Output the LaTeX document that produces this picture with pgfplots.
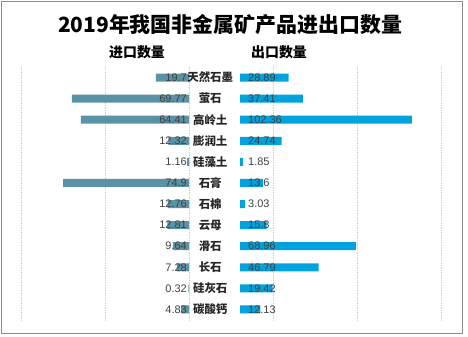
\documentclass[border=0pt]{standalone}
\usepackage{fontspec}
\setmainfont{Liberation Sans}
\newfontfamily\cjk{Noto Sans CJK SC}
\usepackage{pgfplots}
\pgfplotsset{compat=1.18}
\usepackage{pgfplotstable}

\definecolor{impc}{HTML}{5A93A5}
\definecolor{expc}{HTML}{00A3DD}
\definecolor{gridc}{HTML}{CFCFCF}
\definecolor{lblc}{HTML}{404040}
\definecolor{catc}{HTML}{262626}
\definecolor{framec}{HTML}{8C8C8C}

\pgfplotstableread{
idx imp exp
0 19.7 28.89
1 69.77 37.41
2 64.41 102.36
3 12.32 24.74
4 1.16 1.85
5 74.9 13.6
6 12.76 3.03
7 12.81 15.8
8 9.64 68.96
9 7.28 46.79
10 0.32 19.42
11 4.83 12.13
}\data

\pgfplotsset{
  base/.style={
    scale only axis, height=253bp,
    xbar, bar width=8bp,
    y dir=reverse, ymin=-0.5, ymax=11.5,
    axis line style={draw=none}, tick style={draw=none},
    xticklabels={}, xmajorgrids,
    grid style={gridc, dash pattern=on 1.5bp off 1bp, line width=0.8bp},
    clip=false,
    /pgf/number format/assume math mode=true,
    visualization depends on={rawx \as \rx},
    nodes near coords={\pgfmathprintnumber[fixed,precision=2,assume math mode=true]{\pgfplotspointmeta}},
  },
}

\begin{document}
\begin{tikzpicture}
\path[use as bounding box] (0,0) rectangle (468bp,337bp);
\draw[framec, line width=1bp] (1.5bp,3.5bp) rectangle (462bp,335.5bp);

\node[font=\cjk\bfseries\fontsize{21}{24}\selectfont, text=black] at (230bp,312bp) {2019年我国非金属矿产品进出口数量};
\node[font=\cjk\bfseries\fontsize{14}{16}\selectfont, text=black] at (137bp,285bp) {进口数量};
\node[font=\cjk\bfseries\fontsize{14}{16}\selectfont, text=black] at (279bp,285bp) {出口数量};

% imports (left)
\begin{axis}[base,
  at={(21bp,17bp)}, anchor=south west, width=168bp,
  x dir=reverse, xmin=0, xmax=100, xtick={0,50,100},
  ytick=\empty]
\addplot[fill=impc, draw=none,
  every node near coord/.append style={font=\fontsize{11}{12}\selectfont, text=lblc, anchor=east, inner sep=0pt, xshift={\rx*1.68bp-2bp}}]
  table[x=imp, y=idx] {\data};
\end{axis}

% exports (right)
\begin{axis}[base,
  at={(240bp,17bp)}, anchor=south west, width=201bp,
  xmin=0, xmax=119.643, xtick={19.643,69.643,119.643},
  ytick={0,...,11},
  yticklabels={天然石墨,萤石,高岭土,膨润土,硅藻土,石膏,石棉,云母,滑石,长石,硅灰石,碳酸钙},
  yticklabel style={font=\cjk\bfseries\fontsize{11.5}{13}\selectfont, text=catc, anchor=center, xshift=-25.5bp}]
\addplot[fill=expc, draw=none,
  every node near coord/.append style={font=\fontsize{11}{12}\selectfont, text=lblc, anchor=west, inner sep=0pt, xshift={8bp-\rx*1.68bp}}]
  table[x=exp, y=idx] {\data};
\end{axis}
\end{tikzpicture}
\end{document}
